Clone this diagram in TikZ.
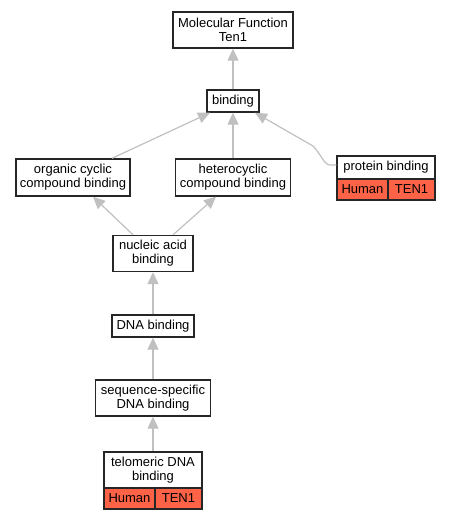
\documentclass[tikz,border=0pt]{standalone}
\usepackage{fontspec}
\setmainfont{Liberation Sans}
\usetikzlibrary{arrows.meta}
\definecolor{edgegray}{RGB}{192,192,192}
\definecolor{tomatored}{RGB}{255,99,71}
\tikzset{
  gobox/.style={draw=black!85, line width=1.4pt, fill=white, inner sep=0pt, align=center,
    font=\fontsize{13}{14}\selectfont, minimum width=#1},
  redcell/.style={gobox=#1, fill=tomatored, minimum height=21pt},
  edge/.style={draw=edgegray, line width=1.2pt, -{Triangle[length=12pt,width=11pt]}}
}
\begin{document}
\begin{tikzpicture}[x=1pt,y=-1pt]
\useasboundingbox (0,0) rectangle (449,520);
% nodes
\node[gobox=120pt, minimum height=36pt] (mf) at (233,30) {Molecular Function\\Ten1};
\node[gobox=52pt, minimum height=22pt] (bind) at (233,101) {binding};
\node[gobox=114pt, minimum height=37pt] (org) at (73,177.5) {organic cyclic\\compound binding};
\node[gobox=115pt, minimum height=37pt] (het) at (233,177.5) {heterocyclic\\compound binding};
\node[gobox=98pt, minimum height=23pt] (pt) at (386,167.5) {protein binding};
\node[redcell=51pt] (pth) at (362.5,189.5) {Human};
\node[redcell=47pt] (ptt) at (411.5,189.5) {TEN1};
\node[gobox=80pt, minimum height=36pt] (nuc) at (153,253.5) {nucleic acid\\binding};
\node[gobox=82pt, minimum height=22pt] (dna) at (153,326) {DNA binding};
\node[gobox=115pt, minimum height=36pt] (seq) at (153,398) {sequence-specific\\DNA binding};
\node[gobox=98pt, minimum height=36pt] (tel) at (153,470) {telomeric DNA\\binding};
\node[redcell=51pt] (telh) at (129.5,498.5) {Human};
\node[redcell=47pt] (telt) at (178.5,498.5) {TEN1};
% edges
\draw[edge] (bind.north) -- (mf.south);
\draw[edge] (het.north) -- (bind.south);
\draw[edge] ([xshift=39pt]org.north) -- ([xshift=-23pt]bind.south);
\coordinate (pbend) at (313,146);
\draw[edge] ([yshift=2.5pt]pt.west) -- ++(-6,0) .. controls (324,165) and (321,154) .. (pbend) -- ([xshift=22pt]bind.south);
\draw[edge] ([xshift=-20pt]nuc.north) -- ([xshift=20pt]org.south);
\draw[edge] ([xshift=20pt]nuc.north) -- ([xshift=-17pt]het.south);
\draw[edge] (dna.north) -- (nuc.south);
\draw[edge] (seq.north) -- (dna.south);
\draw[edge] (tel.north) -- (seq.south);
\end{tikzpicture}
\end{document}
